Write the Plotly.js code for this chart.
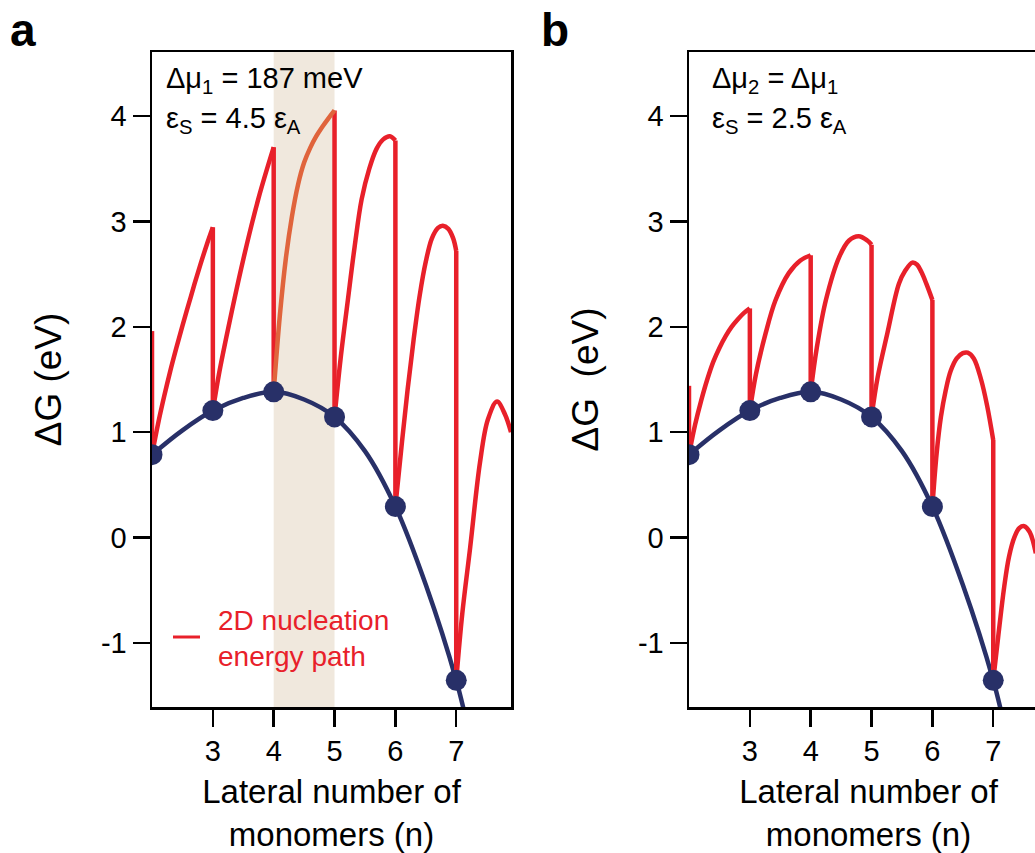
<!DOCTYPE html>
<html>
<head>
<meta charset="utf-8">
<script src="https://cdn.plot.ly/plotly-3.0.1.min.js"></script>
<style>
html,body{margin:0;padding:0;overflow:hidden;background:#fff;}
#chart{width:1060px;height:853px;}
</style>
</head>
<body>
<div id="chart"></div>
<script>
// ---------- data ----------
const nPts = [2, 3, 4, 5, 6, 7];
const gPts = [0.786, 1.205, 1.383, 1.145, 0.293, -1.357];
const curveN = [2, 2.5, 3, 3.5, 4, 4.5, 5, 5.5, 6, 6.5, 7, 7.2];
const curveG = [0.786, 1.017, 1.205, 1.325, 1.383, 1.31, 1.145, 0.82, 0.293, -0.45, -1.357, -1.83];

// panel a : 2D nucleation energy path arcs
const tailTopA = 1.96;
const arcsAx = [
  [2, 2.1, 2.2, 2.3, 2.4, 2.5, 2.6, 2.7, 2.8, 2.9, 3],
  [3, 3.1, 3.25, 3.5, 3.75, 4],
  [4, 4.1, 4.2, 4.3, 4.4, 4.5, 4.6, 4.7, 4.8, 4.9, 5],
  [5, 5.1, 5.22, 5.33, 5.445, 5.57, 5.69, 5.8, 5.91, 6],
  [6, 6.1, 6.2, 6.3, 6.4, 6.5, 6.6, 6.7, 6.78, 6.87, 6.95, 7],
  [7, 7.1, 7.23, 7.39, 7.52, 7.67, 7.8, 7.9]
];
const arcsAy = [
  [0.786, 1.08, 1.34, 1.58, 1.80, 2.01, 2.21, 2.41, 2.60, 2.78, 2.945],
  [1.205, 1.55, 1.98, 2.64, 3.22, 3.706],
  [1.383, 2.10, 2.65, 3.05, 3.35, 3.56, 3.70, 3.81, 3.90, 3.98, 4.055],
  [1.145, 1.70, 2.26, 2.76, 3.21, 3.50, 3.69, 3.78, 3.81, 3.77],
  [0.293, 0.86, 1.40, 1.88, 2.30, 2.62, 2.84, 2.94, 2.96, 2.93, 2.84, 2.72],
  [-1.357, -0.72, -0.09, 0.71, 1.12, 1.29, 1.17, 1.0]
];
const highlightArcA = 2;   // arc drawn in orange (n = 4 -> 5)

// panel b
const tailTopB = 1.44;
const arcsBx = [
  [2, 2.1, 2.2, 2.3, 2.4, 2.5, 2.6, 2.7, 2.8, 2.9, 3],
  [3, 3.1, 3.26, 3.42, 3.64, 3.83, 4],
  [4, 4.1, 4.25, 4.47, 4.63, 4.79, 4.93, 5],
  [5, 5.1, 5.26, 5.45, 5.55, 5.67, 5.75, 5.82, 5.9, 6],
  [6, 6.07, 6.14, 6.22, 6.30, 6.40, 6.50, 6.58, 6.68, 6.80, 6.90, 7],
  [7, 7.08, 7.18, 7.26, 7.35, 7.43, 7.51, 7.6, 7.70]
];
const arcsBy = [
  [0.786, 1.07, 1.30, 1.50, 1.67, 1.80, 1.91, 2.00, 2.07, 2.13, 2.175],
  [1.205, 1.55, 1.94, 2.25, 2.51, 2.63, 2.68],
  [1.383, 1.80, 2.255, 2.665, 2.82, 2.86, 2.82, 2.78],
  [1.145, 1.52, 1.94, 2.41, 2.53, 2.61, 2.59, 2.52, 2.41, 2.255],
  [0.293, 0.80, 1.145, 1.40, 1.58, 1.70, 1.75, 1.755, 1.70, 1.50, 1.25, 0.925],
  [-1.357, -0.95, -0.47, -0.18, 0.006, 0.09, 0.107, 0.05, -0.15]
];

const xTickVals = [3, 4, 5, 6, 7];
const yTickVals = [-1, 0, 1, 2, 3, 4];
const yTickText = ['-1', '0', '1', '2', '3', '4'];

// ---------- styles ----------
const RED = '#e8202a', ORANGE = '#e0643c', NAVY = '#283068', BAND = '#f0e8dd';
const FONT = 'Liberation Sans, Arial, Helvetica, sans-serif';
const LW = 4.5;

function joinArcs(xs, ys, skip) {
  const X = [], Y = [];
  xs.forEach((arr, i) => {
    if (i === skip) return;
    arr.forEach((v, j) => { X.push(v); Y.push(ys[i][j]); });
    X.push(null); Y.push(null);
  });
  return {X, Y};
}
function drops(xs, ys, tailTop) {
  const X = [], Y = [];
  xs.forEach((arr, i) => {
    const top = i === 0 ? tailTop : ys[i - 1][ys[i - 1].length - 1];
    X.push(arr[0], arr[0], null);
    Y.push(top, ys[i][0], null);
  });
  return {X, Y};
}

function panelTraces(xs, ys, tailTop, skip, xa, ya) {
  const t = [];
  t.push({x: curveN, y: curveG, xaxis: xa, yaxis: ya, mode: 'lines', type: 'scatter',
          line: {color: NAVY, width: LW, shape: 'spline'}, hoverinfo: 'skip', showlegend: false});
  const d = drops(xs, ys, tailTop);
  t.push({x: d.X, y: d.Y, xaxis: xa, yaxis: ya, mode: 'lines', type: 'scatter',
          line: {color: RED, width: LW}, connectgaps: false, showlegend: false, hoverinfo: 'skip'});
  const a = joinArcs(xs, ys, skip);
  t.push({x: a.X, y: a.Y, xaxis: xa, yaxis: ya, mode: 'lines', type: 'scatter',
          line: {color: RED, width: LW, shape: 'spline'}, connectgaps: false,
          name: '2D nucleation energy path', showlegend: false});
  if (skip >= 0) {
    t.push({x: xs[skip], y: ys[skip], xaxis: xa, yaxis: ya, mode: 'lines', type: 'scatter',
            line: {color: ORANGE, width: LW, shape: 'spline'}, showlegend: false});
  }
  t.push({x: nPts, y: gPts, xaxis: xa, yaxis: ya, mode: 'markers', type: 'scatter',
          marker: {color: NAVY, size: 21}, showlegend: false});
  return t;
}

const traces = [].concat(
  panelTraces(arcsAx, arcsAy, tailTopA, highlightArcA, 'x', 'y'),
  panelTraces(arcsBx, arcsBy, tailTopB, -1, 'x2', 'y2')
);

const W = 1060, H = 853, L = 152, R = 12, T = 52, B = 146;
const PW = W - L - R, PH = H - T - B;
const px = v => (v - L) / PW;
const py = v => (H - B - v) / PH;

function xAx(domain, anchor) {
  return {
    domain: domain, anchor: anchor, range: [2, 7.9], tickvals: xTickVals,
    showline: true, mirror: true, linecolor: '#000', linewidth: 2.5,
    ticks: 'outside', ticklen: 17, tickwidth: 2.5, tickcolor: '#000',
    showgrid: false, zeroline: false, automargin: false,
    tickfont: {family: FONT, size: 29, color: '#000'},
    title: {text: 'Lateral number of<br>monomers (n)', font: {family: FONT, size: 33, color: '#000'}, standoff: 28}
  };
}
function yAx(anchor, title) {
  return {
    domain: [0, 1], anchor: anchor, range: [-1.61, 4.61], tickvals: yTickVals, ticktext: yTickText,
    showline: true, mirror: true, linecolor: '#000', linewidth: 2.5,
    ticks: 'outside', ticklen: 17, tickwidth: 2.5, tickcolor: '#000',
    showgrid: false, zeroline: false, automargin: false,
    tickfont: {family: FONT, size: 29, color: '#000'},
    title: {text: title, font: {family: FONT, size: 37, color: '#000'}, standoff: 28}
  };
}

const layout = {
  width: W, height: H,
  margin: {l: L, r: R, t: T, b: B},
  paper_bgcolor: '#fff', plot_bgcolor: 'rgba(0,0,0,0)',
  showlegend: false,
  xaxis: xAx([0, px(511)], 'y'),
  yaxis: yAx('x', 'ΔG (eV)'),
  xaxis2: xAx([px(689), 1], 'y2'),
  yaxis2: yAx('x2', 'ΔG\u00a0 (eV)'),
  shapes: [
    {type: 'rect', xref: 'x', yref: 'y domain', x0: 4, x1: 5, y0: 0, y1: 1,
     fillcolor: BAND, line: {width: 0}, layer: 'below'},
    {type: 'line', xref: 'paper', yref: 'paper', x0: px(173), x1: px(200), y0: py(637), y1: py(637),
     line: {color: RED, width: 3}}
  ],
  annotations: [
    {text: '<b>a</b>', xref: 'paper', yref: 'paper', x: px(8), y: py(2), xanchor: 'left', yanchor: 'top',
     showarrow: false, font: {family: FONT, size: 46, color: '#000'}},
    {text: '<b>b</b>', xref: 'paper', yref: 'paper', x: px(539), y: py(2), xanchor: 'left', yanchor: 'top',
     showarrow: false, font: {family: FONT, size: 46, color: '#000'}},
    {text: 'Δμ<sub>1</sub> = 187 meV', xref: 'paper', yref: 'paper', x: px(164), y: py(80),
     xanchor: 'left', yanchor: 'middle', showarrow: false, font: {family: FONT, size: 29, color: '#000'}},
    {text: 'ε<sub>S</sub> = 4.5 ε<sub>A</sub>', xref: 'paper', yref: 'paper', x: px(164), y: py(120),
     xanchor: 'left', yanchor: 'middle', showarrow: false, font: {family: FONT, size: 29, color: '#000'}},
    {text: 'Δμ<sub>2</sub> = Δμ<sub>1</sub>', xref: 'paper', yref: 'paper', x: px(710), y: py(80),
     xanchor: 'left', yanchor: 'middle', showarrow: false, font: {family: FONT, size: 29, color: '#000'}},
    {text: 'ε<sub>S</sub> = 2.5 ε<sub>A</sub>', xref: 'paper', yref: 'paper', x: px(710), y: py(120),
     xanchor: 'left', yanchor: 'middle', showarrow: false, font: {family: FONT, size: 29, color: '#000'}},
    {text: '2D nucleation<br>energy path', xref: 'paper', yref: 'paper', x: px(216), y: py(638),
     xanchor: 'left', yanchor: 'middle', align: 'left', showarrow: false, font: {family: FONT, size: 28, color: RED}}
  ]
};

Plotly.newPlot('chart', traces, layout, {staticPlot: true, displayModeBar: false});
</script>
</body>
</html>
